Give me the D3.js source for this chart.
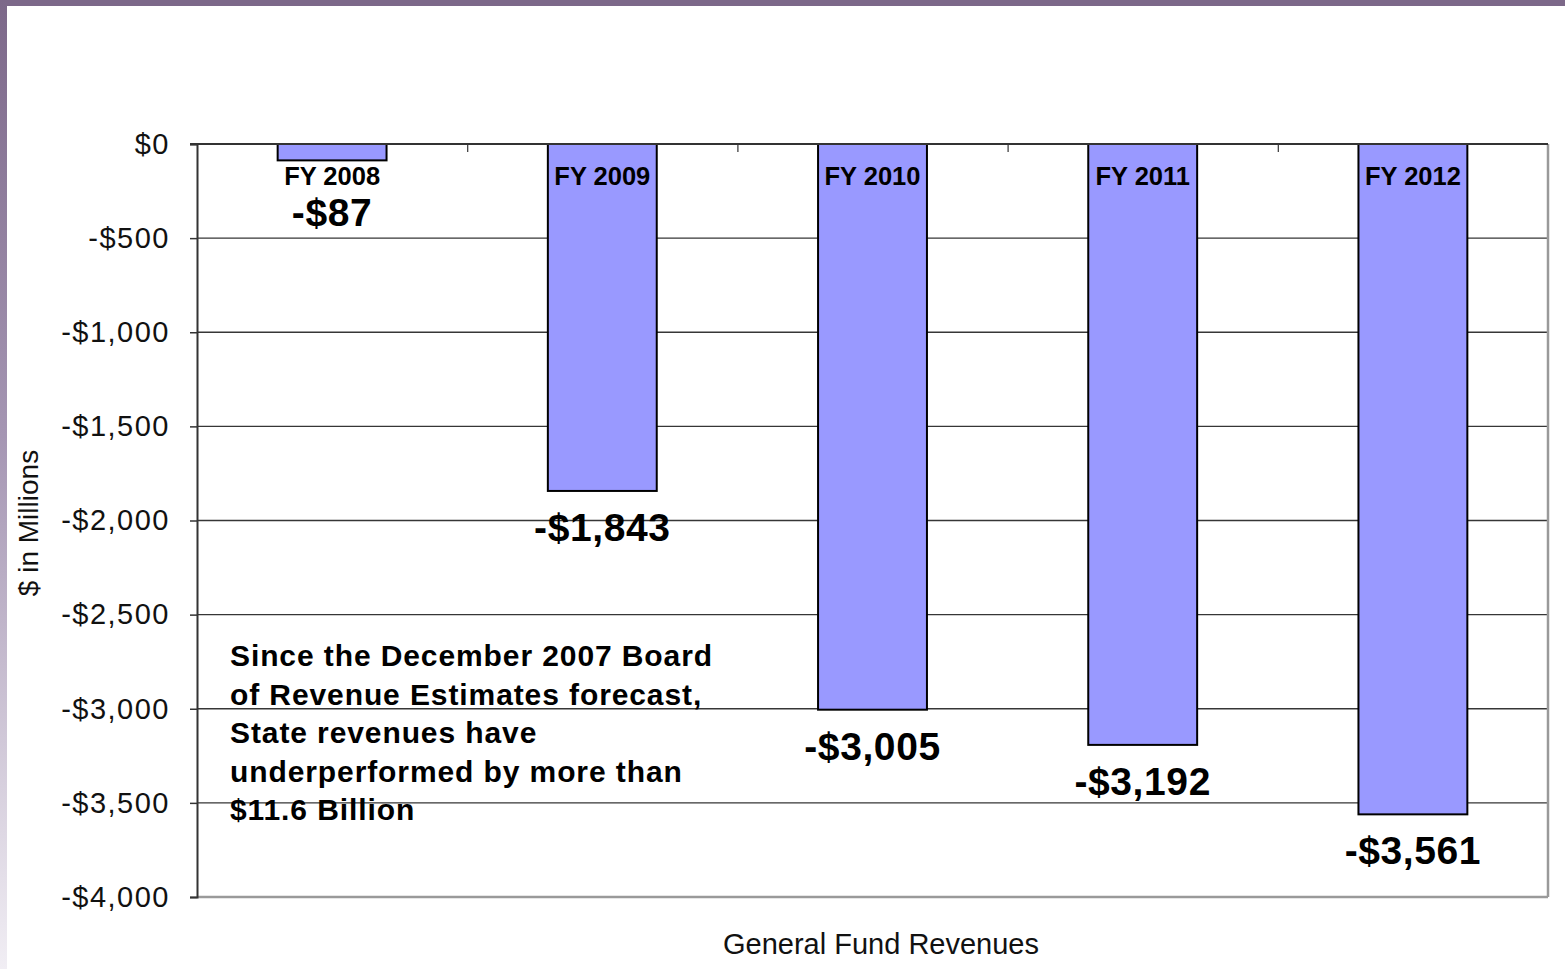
<!DOCTYPE html>
<html>
<head>
<meta charset="utf-8">
<script src="https://cdn.jsdelivr.net/npm/d3@7"></script>
<style>
  html, body { margin: 0; padding: 0; background: #fff; }
  svg { display: block; font-family: "Liberation Sans", Arial, sans-serif; }
</style>
</head>
<body>
<svg id="chart" width="1565" height="969"></svg>
<script>
const categories = ["FY 2008", "FY 2009", "FY 2010", "FY 2011", "FY 2012"];
const values = [-87, -1843, -3005, -3192, -3561];
const valueLabels = ["-$87", "-$1,843", "-$3,005", "-$3,192", "-$3,561"];
const yTicks = [0, -500, -1000, -1500, -2000, -2500, -3000, -3500, -4000];
const yTickLabels = ["$0", "-$500", "-$1,000", "-$1,500", "-$2,000", "-$2,500", "-$3,000", "-$3,500", "-$4,000"];
const noteLines = [
  "Since the December 2007 Board",
  "of Revenue Estimates forecast,",
  "State revenues have",
  "underperformed by more than",
  "$11.6 Billion"
];
const yTitle = "$ in Millions";
const xTitle = "General Fund Revenues";

const svg = d3.select("#chart");
const W = 1565, H = 969;

// Slide decoration: purple top strip and gradient left strip
const defs = svg.append("defs");
const grad = defs.append("linearGradient").attr("id", "leftGrad")
  .attr("x1", 0).attr("y1", 0).attr("x2", 0).attr("y2", 1);
grad.append("stop").attr("offset", "0%").attr("stop-color", "#7c6889");
grad.append("stop").attr("offset", "45%").attr("stop-color", "#a596b3");
grad.append("stop").attr("offset", "100%").attr("stop-color", "#f1eef4");
svg.append("rect").attr("x", 0).attr("y", 0).attr("width", W).attr("height", 6).attr("fill", "#7c6889");
svg.append("rect").attr("x", 0).attr("y", 0).attr("width", 7).attr("height", H).attr("fill", "url(#leftGrad)");

const plot = { left: 197, right: 1548, top: 144, bottom: 897 };

const x = d3.scaleBand().domain(categories).range([plot.left, plot.right]).paddingInner(0).paddingOuter(0);
const y = d3.scaleLinear().domain([0, -4000]).range([plot.top, plot.bottom]);
const barW = x.bandwidth() * 0.403;

// Gridlines
svg.append("g").selectAll("line").data(yTicks.filter(d => d !== 0 && d !== -4000)).join("line")
  .attr("x1", plot.left).attr("x2", plot.right)
  .attr("y1", d => y(d)).attr("y2", d => y(d))
  .attr("stroke", "#363636").attr("stroke-width", 1.3);

// Plot border: right and bottom grey
svg.append("line").attr("x1", plot.right).attr("x2", plot.right).attr("y1", plot.top).attr("y2", plot.bottom)
  .attr("stroke", "#9a9a9a").attr("stroke-width", 2.5);
svg.append("line").attr("x1", plot.left).attr("x2", plot.right).attr("y1", plot.bottom).attr("y2", plot.bottom)
  .attr("stroke", "#9a9a9a").attr("stroke-width", 2.5);

// Y axis
const yAxis = d3.axisLeft(y).tickValues(yTicks).tickSize(7).tickPadding(20)
  .tickFormat((d, i) => yTickLabels[i]);
const gy = svg.append("g").attr("transform", `translate(${plot.left},0)`).call(yAxis);
gy.select(".domain").attr("stroke", "#333").attr("stroke-width", 2);
gy.selectAll(".tick line").attr("stroke", "#333").attr("stroke-width", 1.5);
gy.selectAll(".tick text").attr("font-size", 29).attr("fill", "#111")
  .attr("font-family", "'Liberation Sans', Arial, sans-serif").attr("letter-spacing", "1.5px");

// Bars
svg.append("g").selectAll("rect").data(values).join("rect")
  .attr("x", (d, i) => x(categories[i]) + (x.bandwidth() - barW) / 2)
  .attr("y", y(0))
  .attr("width", barW)
  .attr("height", d => y(d) - y(0))
  .attr("fill", "#9999ff")
  .attr("stroke", "#000").attr("stroke-width", 2);

// X axis at zero (top)
const xAxis = d3.axisBottom(d3.scaleLinear().domain([0, categories.length]).range([plot.left, plot.right]))
  .tickValues(d3.range(1, categories.length)).tickSize(8).tickFormat("");
const gx = svg.append("g").attr("transform", `translate(0,${y(0)})`).call(xAxis);
gx.select(".domain").remove();
gx.selectAll(".tick line").attr("stroke", "#333").attr("stroke-width", 1.2);
svg.append("line").attr("x1", plot.left - 7).attr("x2", plot.right).attr("y1", y(0)).attr("y2", y(0))
  .attr("stroke", "#333").attr("stroke-width", 2.2);

// Category labels
svg.append("g").selectAll("text").data(categories).join("text")
  .attr("x", d => x(d) + x.bandwidth() / 2)
  .attr("y", y(0) + 41)
  .attr("text-anchor", "middle")
  .attr("font-size", 25.5).attr("font-weight", "bold").attr("fill", "#000")
  .text(d => d);

// Value labels
svg.append("g").selectAll("text").data(values).join("text")
  .attr("x", (d, i) => x(categories[i]) + x.bandwidth() / 2)
  .attr("y", d => Math.max(y(d) + 50, y(0) + 82))
  .attr("text-anchor", "middle")
  .attr("font-size", 39).attr("font-weight", "bold").attr("fill", "#000")
  .attr("letter-spacing", "0.6px")
  .text((d, i) => valueLabels[i]);

// Annotation
const note = svg.append("text").attr("x", 230).attr("y", 666)
  .attr("font-size", 30).attr("font-weight", "bold").attr("fill", "#000").attr("letter-spacing", "0.9px");
note.selectAll("tspan").data(noteLines).join("tspan")
  .attr("x", 230).attr("dy", (d, i) => i === 0 ? 0 : 38.6).text(d => d);

// Axis titles
svg.append("text").attr("transform", `translate(38,${523}) rotate(-90)`)
  .attr("text-anchor", "middle").attr("font-size", 28).attr("fill", "#111").text(yTitle);
svg.append("text").attr("x", 881).attr("y", 954).attr("text-anchor", "middle")
  .attr("font-size", 29).attr("fill", "#111").text(xTitle);
</script>
</body>
</html>
